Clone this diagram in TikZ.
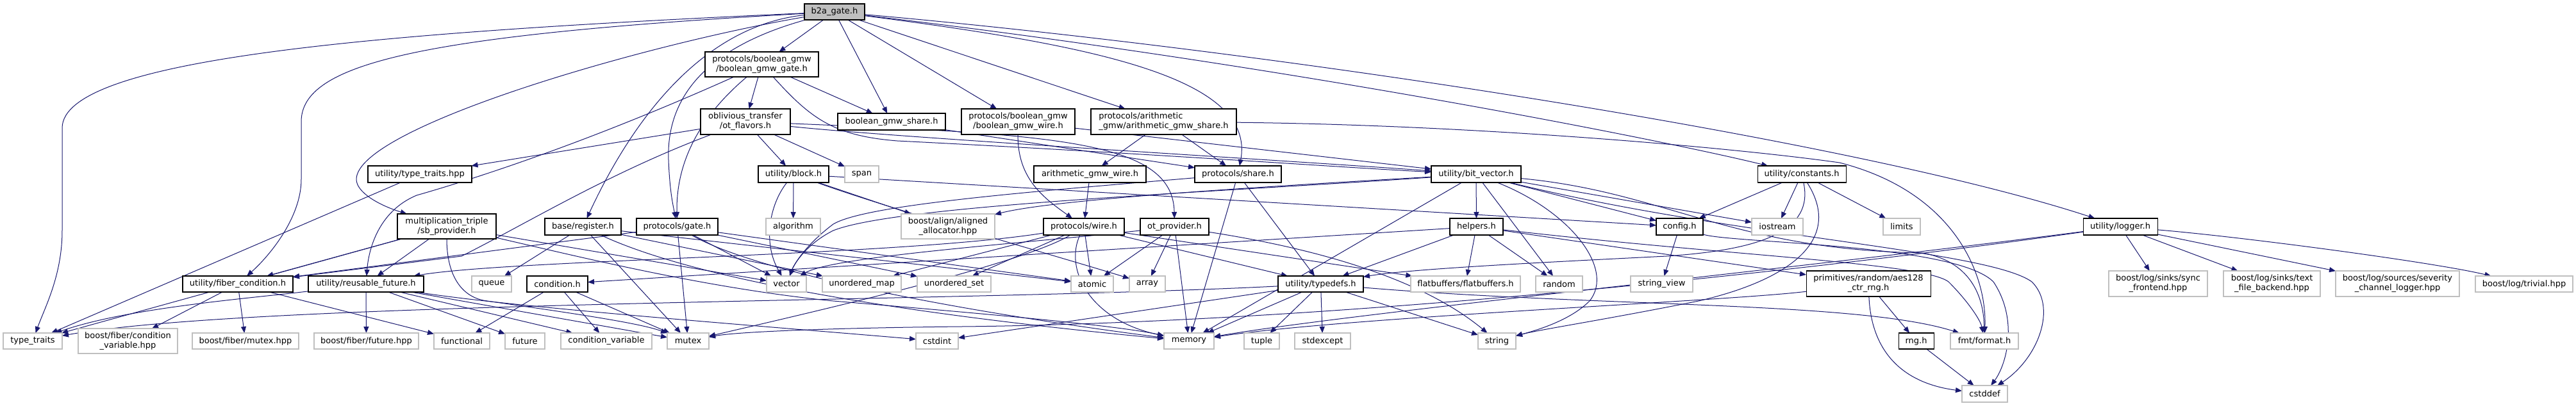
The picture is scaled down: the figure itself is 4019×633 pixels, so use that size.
\documentclass[tikz,border=0pt]{standalone}
\usepackage{fontspec}
\setmainfont{DejaVu Sans}
\usetikzlibrary{arrows.meta}
\pgfdeclarelayer{back}
\pgfdeclarelayer{bg}
\pgfsetlayers{back,bg,main}
\definecolor{edgec}{HTML}{191970}
\definecolor{extc}{HTML}{BFBFBF}
\tikzset{
 basebox/.style={rectangle, inner sep=0pt, outer sep=0pt, font=\fontsize{9.75}{11.2}\selectfont, align=center, fill=white},
 intn/.style={basebox, draw=black, line width=0.8pt},
 extn/.style={basebox, draw=extc, line width=1pt},
 mainn/.style={basebox, draw=black, fill=extc, line width=0.8pt},
 edge/.style={draw=edgec, line width=0.75pt, -{Triangle[length=7.5pt,width=6pt]}},
}
\newcommand\mynode[7]{%
 \pgfmathsetmacro\mnw{(#4-#3)*0.75}%
 \pgfmathsetmacro\mnh{(#6-#5)*0.75}%
 \pgfmathsetmacro\mnx{(#3+#4)/2}%
 \pgfmathsetmacro\mny{(#5+#6)/2}%
 \node[#2, minimum width=\mnw pt, minimum height=\mnh pt] (#1) at (\mnx,\mny) {#7};}
\begin{document}
\begin{tikzpicture}[x=0.75pt,y=-0.75pt]
\begin{pgfonlayer}{back}
\fill[white] (0,0) rectangle (4019,633);
\end{pgfonlayer}
\useasboundingbox (0,0) rectangle (4019,633);
% row 1-3
\mynode{b2a}{mainn}{1255}{1349}{6}{31}{b2a\_gate.h}
\mynode{bgate}{intn}{1100}{1277}{81}{120}{protocols/boolean\_gmw\\/boolean\_gmw\_gate.h}
\mynode{otf}{intn}{1093}{1233}{170}{210}{oblivious\_transfer\\/ot\_flavors.h}
\mynode{bshare}{intn}{1307}{1475}{177}{203}{boolean\_gmw\_share.h}
\mynode{bwire}{intn}{1500}{1677}{170}{210}{protocols/boolean\_gmw\\/boolean\_gmw\_wire.h}
\mynode{ashare}{intn,align=left}{1702}{1929}{170}{210}{protocols/arithmetic\\\_gmw/arithmetic\_gmw\_share.h}
% row 4
\mynode{tth}{intn}{574}{736}{259}{285}{utility/type\_traits.hpp}
\mynode{block}{intn}{1183}{1293}{259}{285}{utility/block.h}
\mynode{span}{extn}{1318}{1371}{259}{285}{span}
\mynode{awire}{intn}{1613}{1788}{259}{285}{arithmetic\_gmw\_wire.h}
\mynode{pshare}{intn}{1864}{1999}{259}{285}{protocols/share.h}
\mynode{bitvec}{intn}{2233}{2373}{259}{285}{utility/bit\_vector.h}
\mynode{consts}{intn}{2742}{2880}{259}{285}{utility/constants.h}
% row 5
\mynode{sbprov}{intn}{620}{774}{334}{373}{multiplication\_triple\\/sb\_provider.h}
\mynode{register}{intn}{850}{969}{341}{367}{base/register.h}
\mynode{pgate}{intn}{993}{1120}{341}{367}{protocols/gate.h}
\mynode{algorithm}{extn}{1195}{1280}{341}{367}{algorithm}
\mynode{align}{extn}{1406}{1552}{334}{373}{boost/align/aligned\\\_allocator.hpp}
\mynode{pwire}{intn}{1628}{1754}{341}{367}{protocols/wire.h}
\mynode{otprov}{intn}{1779}{1886}{341}{367}{ot\_provider.h}
\mynode{helpers}{intn}{2262}{2345}{341}{367}{helpers.h}
\mynode{config}{intn}{2584}{2657}{341}{367}{config.h}
\mynode{iostream}{extn}{2733}{2813}{341}{367}{iostream}
\mynode{limits}{extn}{2938}{2996}{341}{367}{limits}
\mynode{logger}{intn}{3250}{3366}{341}{367}{utility/logger.h}
% row 6
\mynode{fibercond}{intn}{285}{457}{431}{456}{utility/fiber\_condition.h}
\mynode{reusable}{intn}{481}{661}{431}{456}{utility/reusable\_future.h}
\mynode{queue}{extn}{736}{798}{431}{456}{queue}
\mynode{condh}{intn}{822}{917}{431}{456}{condition.h}
\mynode{vector}{extn}{1196}{1258}{431}{456}{vector}
\mynode{umap}{extn}{1283}{1406}{431}{456}{unordered\_map}
\mynode{uset}{extn}{1431}{1546}{431}{456}{unordered\_set}
\mynode{atomic}{extn}{1671}{1737}{431}{456}{atomic}
\mynode{array}{extn}{1762}{1818}{431}{456}{array}
\mynode{typedefs}{intn}{1994}{2127}{431}{456}{utility/typedefs.h}
\mynode{flatbuf}{extn}{2201}{2372}{431}{456}{flatbuffers/flatbuffers.h}
\mynode{random}{extn}{2396}{2469}{431}{456}{random}
\mynode{strview}{extn}{2544}{2641}{431}{456}{string\_view}
\mynode{aes}{intn}{2818}{3012}{423}{463}{primitives/random/aes128\\\_ctr\_rng.h}
\mynode{sync}{extn}{3290}{3444}{423}{463}{boost/log/sinks/sync\\\_frontend.hpp}
\mynode{textfile}{extn}{3469}{3620}{423}{463}{boost/log/sinks/text\\\_file\_backend.hpp}
\mynode{sevchan}{extn}{3644}{3837}{423}{463}{boost/log/sources/severity\\\_channel\_logger.hpp}
\mynode{trivial}{extn}{3862}{4014}{431}{456}{boost/log/trivial.hpp}
% row 7
\mynode{typetraits}{extn}{5}{97}{520}{545}{type\_traits}
\mynode{bfcondvar}{extn}{122}{277}{513}{552}{boost/fiber/condition\\\_variable.hpp}
\mynode{bfmutex}{extn}{300}{466}{520}{545}{boost/fiber/mutex.hpp}
\mynode{bffuture}{extn}{490}{653}{520}{545}{boost/fiber/future.hpp}
\mynode{functional}{extn}{677}{764}{520}{545}{functional}
\mynode{future}{extn}{788}{850}{520}{545}{future}
\mynode{condvar}{extn}{875}{1017}{520}{545}{condition\_variable}
\mynode{mutex}{extn}{1041}{1106}{520}{545}{mutex}
\mynode{cstdint}{extn}{1429}{1495}{520}{545}{cstdint}
\mynode{memory}{extn}{1816}{1894}{520}{545}{memory}
\mynode{tuple}{extn}{1941}{1996}{520}{545}{tuple}
\mynode{stdexcept}{extn}{2020}{2107}{520}{545}{stdexcept}
\mynode{string}{extn}{2306}{2365}{520}{545}{string}
\mynode{rng}{intn}{2962}{3017}{520}{545}{rng.h}
\mynode{fmt}{extn}{3043}{3149}{520}{545}{fmt/format.h}
\mynode{cstddef}{extn}{3061}{3132}{602}{628}{cstddef}

\begin{pgfonlayer}{bg}
% b2a_gate.h
\draw[edge] (b2a) .. controls (600,50) and (97,90) .. (97,200) -- (97,360) .. controls (97,430) and (70,480) .. (typetraits);
\draw[edge] (b2a) .. controls (650,55) and (470,100) .. (470,190) -- (470,280) .. controls (470,340) and (420,400) .. (fibercond);
\draw[edge] (b2a) .. controls (1000,70) and (556,200) .. (556,280) .. controls (556,300) and (590,320) .. (sbprov);
\draw[edge] (b2a) .. controls (1100,40) and (990,180) .. (register);
\draw[edge] (b2a) .. controls (1080,80) and (1040,170) .. (1043,250) .. controls (1045,300) and (1050,320) .. (pgate);
\draw[edge] (b2a) -- (bgate);
\draw[edge] (b2a) -- (bshare);
\draw[edge] (b2a) -- (bwire);
\draw[edge] (b2a) -- (ashare);
\draw[edge] (b2a) .. controls (1700,70) and (1960,120) .. (pshare);
\draw[edge] (b2a) .. controls (2000,100) and (2600,220) .. (consts);
\draw[edge] (b2a) .. controls (2000,80) and (2900,220) .. (logger);
% boolean_gmw_gate.h
\draw[edge] (bgate) -- (otf);
\draw[edge] (bgate) -- (bshare);
\draw[edge] (bgate) .. controls (1265,185) and (1300,212) .. (1400,220) .. controls (1800,240) and (2100,262) .. (bitvec);
\draw[edge] (bgate) .. controls (900,230) and (720,285) .. (650,305) .. controls (590,330) and (575,390) .. (reusable);
\draw[edge] (bgate) .. controls (1070,200) and (1055,280) .. (pgate);
% ot_flavors.h
\draw[edge] (otf) -- (tth);
\draw[edge] (otf) -- (block);
\draw[edge] (otf) -- (span);
\draw[edge] (otf) .. controls (1400,215) and (2000,250) .. (bitvec);
\draw[edge] (otf) .. controls (1650,210) and (1830,220) .. (otprov);
\draw[edge] (otf) .. controls (950,270) and (820,350) .. (720,400) -- (fibercond);
% shares / wires
\draw[edge] (bshare) -- (pshare);
\draw[edge] (bwire) .. controls (1587,280) and (1630,310) .. (pwire);
\draw[edge] (bwire) -- (bitvec);
\draw[edge] (ashare) -- (awire);
\draw[edge] (ashare) -- (pshare);
\draw[edge] (ashare) .. controls (2300,195) and (2700,230) .. (2870,254) .. controls (3050,300) and (3100,430) .. (fmt);
\draw[edge] (tth) -- (typetraits);
% block.h
\draw[edge] (block) .. controls (1200,320) and (1190,380) .. (vector);
\draw[edge] (block) -- (algorithm);
\draw[edge] (block) -- (align);
\draw[edge] (block) .. controls (1400,330) and (1650,400) .. (array);
\draw[edge] (block) -- (config);
\draw[edge] (awire) -- (pwire);
% protocols/share.h
\draw[edge] (pshare) -- (memory);
\draw[edge] (pshare) -- (typedefs);
\draw[edge] (pshare) .. controls (1600,300) and (1350,320) .. (1300,350) .. controls (1260,380) and (1240,410) .. (vector);
% sb_provider.h
\draw[edge] (sbprov) -- (typetraits);
\draw[edge] (sbprov) -- (fibercond);
\draw[edge] (sbprov) -- (reusable);
\draw[edge] (sbprov) .. controls (697,430) and (720,465) .. (760,470) .. controls (900,490) and (1000,505) .. (mutex);
\draw[edge] (sbprov) -- (vector);
\draw[edge] (sbprov) .. controls (900,400) and (1100,450) .. (1300,470) .. controls (1600,495) and (1750,510) .. (memory);
% register.h
\draw[edge] (register) -- (queue);
\draw[edge] (register) -- (mutex);
\draw[edge] (register) -- (umap);
\draw[edge] (register) -- (atomic);
\draw[edge] (register) .. controls (1050,420) and (1300,480) .. (memory);
% gate.h
\draw[edge] (pgate) -- (fibercond);
\draw[edge] (pgate) -- (vector);
\draw[edge] (pgate) -- (mutex);
\draw[edge] (pgate) .. controls (1170,420) and (1450,480) .. (memory);
\draw[edge] (pgate) -- (uset);
\draw[edge] (pgate) -- (atomic);
% wire.h
\draw[edge] (pwire) -- (umap);
\draw[edge] (pwire) -- (uset);
\draw[edge] (pwire) -- (atomic);
\draw[edge] (pwire) .. controls (1660,420) and (1700,500) .. (memory);
\draw[edge] (pwire) .. controls (1600,410) and (1300,480) .. (mutex);
\draw[edge] (pwire) -- (typedefs);
\draw[edge] (pwire) -- (flatbuf);
\draw[edge] (pwire) .. controls (1400,400) and (800,405) .. (reusable);
% ot_provider.h
\draw[edge] (otprov) -- (atomic);
\draw[edge] (otprov) -- (array);
\draw[edge] (otprov) -- (memory);
\draw[edge] (otprov) .. controls (1600,380) and (1300,400) .. (vector);
\draw[edge] (otprov) .. controls (2000,380) and (2200,420) .. (string);
% typedefs.h
\draw[edge] (typedefs) .. controls (1500,472) and (400,470) .. (typetraits);
\draw[edge] (typedefs) -- (cstdint);
\draw[edge] (typedefs) -- (memory);
\draw[edge] (typedefs) -- (tuple);
\draw[edge] (typedefs) -- (stdexcept);
\draw[edge] (typedefs) -- (string);
\draw[edge] (typedefs) .. controls (2500,480) and (2900,470) .. (fmt);
% helpers.h
\draw[edge] (helpers) -- (condh);
\draw[edge] (helpers) -- (typedefs);
\draw[edge] (helpers) -- (flatbuf);
\draw[edge] (helpers) -- (random);
\draw[edge] (helpers) -- (aes);
\draw[edge] (helpers) .. controls (2700,400) and (3000,410) .. (3040,440) .. controls (3070,470) and (3090,500) .. (fmt);
% bit_vector.h
\draw[edge] (bitvec) -- (helpers);
\draw[edge] (bitvec) -- (random);
\draw[edge] (bitvec) .. controls (2450,330) and (2520,420) .. (2480,470) .. controls (2450,500) and (2400,515) .. (string);
\draw[edge] (bitvec) -- (config);
\draw[edge] (bitvec) -- (iostream);
\draw[edge] (bitvec) .. controls (2600,300) and (2700,390) .. (3000,395) .. controls (3080,410) and (3095,470) .. (fmt);
\draw[edge] (bitvec) .. controls (2700,370) and (3100,390) .. (3170,440) .. controls (3210,480) and (3180,560) .. (cstddef);
\draw[edge] (bitvec) .. controls (2000,290) and (1650,310) .. (align);
\draw[edge] (bitvec) .. controls (1900,300) and (1400,320) .. (1300,360) .. controls (1260,380) and (1240,410) .. (vector);
\draw[edge] (bitvec) -- (memory);
% config.h, constants.h
\draw[edge] (config) -- (strview);
\draw[edge] (config) .. controls (2700,380) and (3050,380) .. (3110,440) .. controls (3150,500) and (3130,570) .. (cstddef);
\draw[edge] (consts) -- (config);
\draw[edge] (consts) -- (iostream);
\draw[edge] (consts) -- (limits);
\draw[edge] (consts) .. controls (2830,360) and (2750,390) .. (2600,400) .. controls (2400,410) and (2200,420) .. (typedefs);
\draw[edge] (consts) .. controls (2880,380) and (2780,440) .. (2650,470) .. controls (2500,500) and (2400,515) .. (string);
% logger.h
\draw[edge] (logger) -- (sync);
\draw[edge] (logger) -- (textfile);
\draw[edge] (logger) -- (sevchan);
\draw[edge] (logger) .. controls (3500,370) and (3800,410) .. (trivial);
\draw[edge] (logger) .. controls (2800,420) and (2100,490) .. (memory);
\draw[edge] (logger) .. controls (2700,440) and (2000,505) .. (1500,510) .. controls (1300,512) and (1150,518) .. (mutex);
% aes, rng
\draw[edge] (aes) -- (rng);
\draw[edge] (aes) .. controls (2920,560) and (2980,600) .. (cstddef);
\draw[edge] (aes) .. controls (2700,470) and (2100,495) .. (memory);
\draw[edge] (rng) -- (cstddef);
% condition.h, fiber_condition.h, reusable_future.h
\draw[edge] (condh) -- (functional);
\draw[edge] (condh) -- (condvar);
\draw[edge] (condh) -- (mutex);
\draw[edge] (fibercond) -- (bfcondvar);
\draw[edge] (fibercond) -- (bfmutex);
\draw[edge] (fibercond) -- (functional);
\draw[edge] (reusable) -- (bffuture);
\draw[edge] (reusable) .. controls (400,465) and (200,480) .. (typetraits);
\draw[edge] (reusable) -- (future);
\draw[edge] (reusable) -- (condvar);
\draw[edge] (reusable) -- (mutex);
\draw[edge] (reusable) .. controls (800,480) and (1200,510) .. (cstdint);
\end{pgfonlayer}
\end{tikzpicture}
\end{document}
